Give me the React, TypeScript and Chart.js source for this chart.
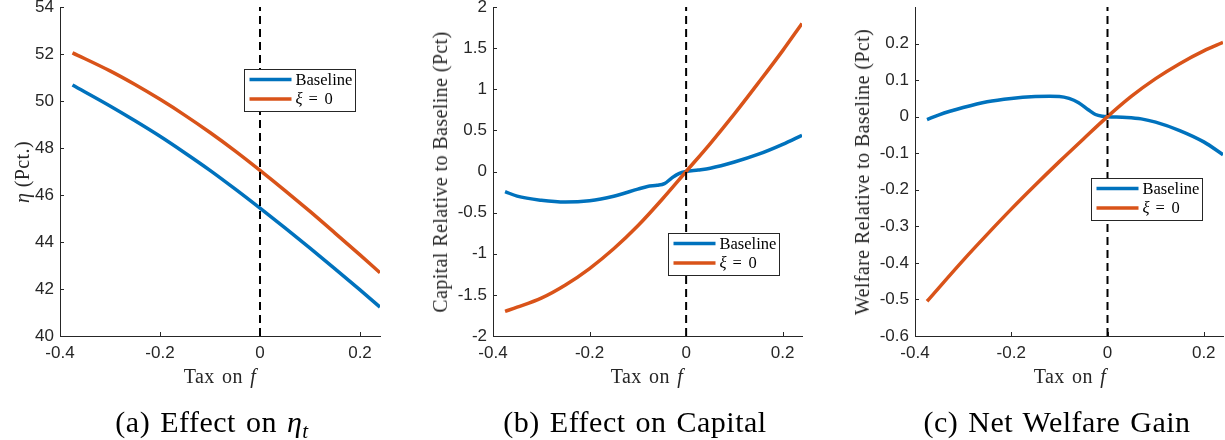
import React, { useEffect, useRef } from 'react';
import { Chart, registerables } from 'chart.js';

Chart.register(...registerables);

// ---------------- data ----------------
const seriesNames = ['Baseline', 'ξ = 0'];
const refLineX = 0;
const xTickValues = [-0.4, -0.2, 0, 0.2];

// (a) Effect on eta
const taxA = [-0.375, -0.3, -0.25, -0.2, -0.15, -0.1, -0.05, 0, 0.05, 0.1, 0.15, 0.2, 0.24];
const etaBaseline = [50.68, 49.79, 49.16, 48.5, 47.79, 47.05, 46.26, 45.44, 44.6, 43.74, 42.86, 41.96, 41.23];
const etaXi0 = [52.05, 51.28, 50.7, 50.07, 49.39, 48.66, 47.88, 47.05, 46.19, 45.3, 44.38, 43.45, 42.69];
const etaTicks = [40, 42, 44, 46, 48, 50, 52, 54];

// (b) Effect on capital
const taxBBase = [-0.375, -0.35, -0.3, -0.25, -0.2, -0.15, -0.1, -0.08, -0.06, -0.045, -0.03, -0.015, 0, 0.025, 0.05, 0.1, 0.15, 0.2, 0.24];
const capBaseline = [-0.245, -0.3, -0.35, -0.372, -0.355, -0.3, -0.215, -0.182, -0.168, -0.148, -0.08, -0.025, 0, 0.018, 0.04, 0.115, 0.21, 0.33, 0.44];
const taxBXi = [-0.375, -0.35, -0.3, -0.25, -0.2, -0.15, -0.1, -0.05, 0, 0.05, 0.1, 0.15, 0.2, 0.24];
const capXi0 = [-1.7, -1.65, -1.54, -1.38, -1.18, -0.94, -0.66, -0.34, 0, 0.34, 0.7, 1.08, 1.47, 1.8];
const capTicks = [-2, -1.5, -1, -0.5, 0, 0.5, 1, 1.5, 2];

// (c) Net welfare gain
const taxCBase = [-0.375, -0.35, -0.3, -0.25, -0.2, -0.15, -0.12, -0.1, -0.08, -0.06, -0.04, -0.025, -0.01, 0, 0.04, 0.07, 0.1, 0.15, 0.2, 0.24];
const welBaseline = [-0.008, 0.005, 0.025, 0.041, 0.05, 0.055, 0.056, 0.0555, 0.05, 0.038, 0.019, 0.006, 0.001, 0, -0.002, -0.006, -0.015, -0.038, -0.069, -0.104];
const taxCXi = [-0.375, -0.3, -0.25, -0.2, -0.15, -0.1, -0.05, 0, 0.05, 0.1, 0.15, 0.2, 0.24];
const welXi0 = [-0.505, -0.393, -0.322, -0.253, -0.187, -0.123, -0.061, 0, 0.056, 0.104, 0.145, 0.18, 0.203];
const welTicks = [-0.6, -0.5, -0.4, -0.3, -0.2, -0.1, 0, 0.1, 0.2];

// ---------------- styling ----------------
const BLUE = '#0072BD';
const ORANGE = '#D95319';
const AXIS = '#262626';
const SANS = "'Liberation Sans', Arial, Helvetica, sans-serif";
const SERIF = "'Liberation Serif', 'Times New Roman', serif";
const LINE_W = 3.5;

type PanelCfg = {
  key: string;
  canvasLeft: number;
  canvasWidth: number;
  yAxisWidth: number;
  padRight: number;
  xsBase: number[];
  base: number[];
  xsXi: number[];
  xi: number[];
  yMin: number;
  yMax: number;
  yTicks: number[];
  legend: { fx: number; fy: number };
  yTitle: React.ReactNode;
  yTitleX: number;
  xTitleX: number;
  caption: React.ReactNode;
  captionX: number;
};

const fmt = (v: number) => String(Math.round(v * 100) / 100);

const inwardTicks = {
  id: 'inwardTicks',
  beforeDatasetsDraw(chart: any) {
    const { ctx, chartArea: a, scales } = chart;
    ctx.save();
    ctx.strokeStyle = AXIS;
    ctx.lineWidth = 1;
    const len = 4;
    scales.x.ticks.forEach((t: any) => {
      const px = Math.round(scales.x.getPixelForValue(t.value)) + 0.5;
      ctx.beginPath();
      ctx.moveTo(px, a.bottom);
      ctx.lineTo(px, a.bottom - len);
      ctx.stroke();
    });
    scales.y.ticks.forEach((t: any) => {
      const py = Math.round(scales.y.getPixelForValue(t.value)) + 0.5;
      ctx.beginPath();
      ctx.moveTo(a.left, py);
      ctx.lineTo(a.left + len, py);
      ctx.stroke();
    });
    ctx.restore();
  },
};

const matlabLegend = {
  id: 'matlabLegend',
  afterDatasetsDraw(chart: any, _args: any, opts: any) {
    const { ctx, chartArea: a } = chart;
    const x0 = Math.round(a.left + opts.fx * (a.right - a.left)) + 0.5;
    const y0 = Math.round(a.top + opts.fy * (a.bottom - a.top)) + 0.5;
    const w = 111;
    const h = 42;
    ctx.save();
    ctx.fillStyle = '#fff';
    ctx.fillRect(x0, y0, w, h);
    ctx.strokeStyle = AXIS;
    ctx.lineWidth = 1;
    ctx.strokeRect(x0, y0, w, h);
    const [sym, , eq, , zero] = seriesNames[1].split(/( )/);
    const rows = [
      { color: BLUE, parts: [{ t: seriesNames[0], it: false, dx: 0 }] },
      {
        color: ORANGE,
        parts: [
          { t: sym, it: true, dx: 0 },
          { t: eq, it: false, dx: 13 },
          { t: zero, it: false, dx: 29 },
        ],
      },
    ];
    rows.forEach((r, i) => {
      const cy = y0 + 10 + i * 19.5;
      ctx.strokeStyle = r.color;
      ctx.lineWidth = LINE_W;
      ctx.beginPath();
      ctx.moveTo(x0 + 5, cy);
      ctx.lineTo(x0 + 47, cy);
      ctx.stroke();
      ctx.fillStyle = '#000';
      ctx.textBaseline = 'middle';
      r.parts.forEach((pt) => {
        ctx.font = `${pt.it ? 'italic ' : ''}16.5px ${SERIF}`;
        ctx.fillText(pt.t, x0 + 51 + pt.dx, cy + 1);
      });
    });
    ctx.restore();
  },
};

const panels: PanelCfg[] = [
  {
    key: 'a',
    canvasLeft: 0,
    canvasWidth: 390,
    yAxisWidth: 60,
    padRight: 10,
    xsBase: taxA,
    base: etaBaseline,
    xsXi: taxA,
    xi: etaXi0,
    yMin: 40,
    yMax: 54,
    yTicks: etaTicks,
    legend: { fx: 0.575, fy: 0.188 },
    yTitle: (
      <>
        <i>η</i> (Pct.)
      </>
    ),
    yTitleX: 22,
    xTitleX: 220,
    caption: (
      <>
        (a) Effect on <i>η</i>
        <sub style={{ fontSize: '0.7em', verticalAlign: '-0.3em', lineHeight: 0, fontStyle: 'italic' }}>t</sub>
      </>
    ),
    captionX: 212,
  },
  {
    key: 'b',
    canvasLeft: 420,
    canvasWidth: 392,
    yAxisWidth: 73,
    padRight: 10,
    xsBase: taxBBase,
    base: capBaseline,
    xsXi: taxBXi,
    xi: capXi0,
    yMin: -2,
    yMax: 2,
    yTicks: capTicks,
    legend: { fx: 0.567, fy: 0.686 },
    yTitle: <>Capital Relative to Baseline (Pct)</>,
    yTitleX: 440,
    xTitleX: 647,
    caption: <>(b) Effect on Capital</>,
    captionX: 635,
  },
  {
    key: 'c',
    canvasLeft: 840,
    canvasWidth: 385,
    yAxisWidth: 75,
    padRight: 2,
    xsBase: taxCBase,
    base: welBaseline,
    xsXi: taxCXi,
    xi: welXi0,
    yMin: -0.6,
    yMax: 0.3,
    yTicks: welTicks,
    legend: { fx: 0.57, fy: 0.519 },
    yTitle: <>Welfare Relative to Baseline (Pct)</>,
    yTitleX: 862,
    xTitleX: 1070,
    caption: <>(c) Net Welfare Gain</>,
    captionX: 1057,
  },
];

const CANVAS_TOP = -10;
const CANVAS_H = 376;

function Panel({ p }: { p: PanelCfg }) {
  const ref = useRef<HTMLCanvasElement | null>(null);
  useEffect(() => {
    if (!ref.current) return;
    const chart = new Chart(ref.current, {
      type: 'line',
      data: {
        datasets: [
          {
            label: 'zero',
            data: [
              { x: refLineX, y: p.yMin },
              { x: refLineX, y: p.yMax },
            ],
            borderColor: '#000',
            borderWidth: 2,
            borderDash: [8, 5],
            pointRadius: 0,
            tension: 0,
          },
          {
            label: seriesNames[1],
            data: p.xsXi.map((x, i) => ({ x, y: p.xi[i] })),
            borderColor: ORANGE,
            borderWidth: LINE_W,
            pointRadius: 0,
            cubicInterpolationMode: 'monotone',
          },
          {
            label: seriesNames[0],
            data: p.xsBase.map((x, i) => ({ x, y: p.base[i] })),
            borderColor: BLUE,
            borderWidth: LINE_W,
            pointRadius: 0,
            cubicInterpolationMode: 'monotone',
          },
        ],
      },
      options: {
        animation: false,
        responsive: false,
        devicePixelRatio: 1,
        events: [],
        layout: { padding: { top: 17, right: p.padRight, left: 0, bottom: 0 } },
        plugins: {
          legend: { display: false },
          tooltip: { enabled: false },
          // @ts-ignore
          matlabLegend: p.legend,
        },
        scales: {
          x: {
            type: 'linear',
            min: -0.4,
            max: 0.24,
            afterBuildTicks: (s: any) => {
              s.ticks = xTickValues.map((v) => ({ value: v }));
            },
            afterFit: (s: any) => {
              s.height = 30;
            },
            grid: { display: false, drawTicks: false },
            border: { display: true, color: AXIS, width: 1 },
            ticks: {
              font: { family: SANS, size: 17 },
              color: AXIS,
              padding: 7,
              maxRotation: 0,
              autoSkip: false,
              callback: (v: any) => fmt(Number(v)),
            },
          },
          y: {
            type: 'linear',
            min: p.yMin,
            max: p.yMax,
            afterBuildTicks: (s: any) => {
              s.ticks = p.yTicks.map((v) => ({ value: v }));
            },
            afterFit: (s: any) => {
              s.width = p.yAxisWidth;
            },
            grid: { display: false, drawTicks: false },
            border: { display: true, color: AXIS, width: 1 },
            ticks: {
              font: { family: SANS, size: 17 },
              color: AXIS,
              padding: 6,
              autoSkip: false,
              callback: (v: any) => fmt(Number(v)),
            },
          },
        },
      } as any,
      plugins: [inwardTicks, matlabLegend],
    });
    return () => chart.destroy();
  }, [p]);

  const titleStyle: React.CSSProperties = {
    position: 'absolute',
    fontFamily: SERIF,
    fontSize: 20,
    letterSpacing: '0.4px',
    color: AXIS,
    whiteSpace: 'nowrap',
    lineHeight: 1,
  };

  return (
    <>
      <canvas
        ref={ref}
        width={p.canvasWidth}
        height={CANVAS_H}
        style={{ position: 'absolute', left: p.canvasLeft, top: CANVAS_TOP, width: p.canvasWidth, height: CANVAS_H }}
      />
      <div style={{ ...titleStyle, left: p.yTitleX, top: 171.5, transform: 'translate(-50%, -50%) rotate(-90deg)' }}>{p.yTitle}</div>
      <div style={{ ...titleStyle, left: p.xTitleX, top: 376, transform: 'translate(-50%, -50%)', wordSpacing: '2px' }}>
        Tax on <i>f</i>
      </div>
      <div
        style={{
          position: 'absolute',
          left: p.captionX,
          top: 422,
          transform: 'translate(-50%, -50%)',
          fontFamily: SERIF,
          fontSize: 30,
          letterSpacing: '0.5px',
          wordSpacing: '2px',
          color: '#000',
          whiteSpace: 'nowrap',
          lineHeight: 1,
        }}
      >
        {p.caption}
      </div>
    </>
  );
}

export default function App() {
  return (
    <div
      style={{
        position: 'fixed',
        left: 0,
        top: 0,
        width: 1225,
        height: 440,
        background: '#fff',
        overflow: 'hidden',
      }}
    >
      {panels.map((p) => (
        <Panel key={p.key} p={p} />
      ))}
    </div>
  );
}
